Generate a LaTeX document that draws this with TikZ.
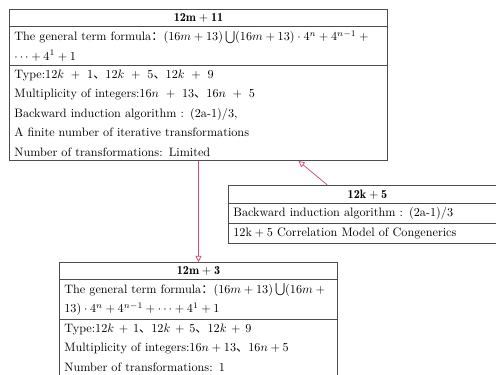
\documentclass[tikz,border=0pt]{standalone}
\usepackage{amsmath}
\usepackage{amssymb}
\usepackage{fontspec}
\usepackage{xcolor}
\usepackage{tikz}
\usetikzlibrary{arrows.meta,positioning,shapes.multipart,calc}
\newfontfamily\cjk{Noto Sans CJK SC}
\newcommand{\dun}{{\cjk 、}}
\newcommand{\maohao}{{\cjk ：}}
\definecolor{linkpink}{RGB}{214,72,128}

\begin{document}
\begin{tikzpicture}[
    x=0.82pt, y=-0.82pt,
    every node/.style={font=\fontsize{10}{16}\selectfont},
    classbox/.style={
      rectangle split, rectangle split parts=3, draw=black!70, line width=0.8pt,
      inner xsep=4pt, inner ysep=3pt, align=left, anchor=north west
    },
    inherit/.style={-{Triangle[open,length=5pt,width=5pt]}, line width=0.6pt, linkpink}
  ]
    \path[use as bounding box, clip] (0,0) rectangle (496,374);

    \node[classbox, text width=302pt] (m11) at (9,9) {%
      \centerline{$\mathbf{12m+11}$}
      \nodepart{two}The general term formula\maohao$(16m+13)\bigcup(16m+13)\cdot4^n+4^{n-1}+{}$\\
      $\cdots+4^1+1$
      \nodepart{three}Type:$12k\ +\ 1$\dun$12k\ +\ 5$\dun$12k\ +\ 9$\\
      Multiplicity of integers:$16n\ +\ 13$\dun$16n\ +\ 5$\\
      Backward induction algorithm : (2a-1)/3,\\
      A finite number of iterative transformations\\
      Number of transformations: Limited};

    \node[classbox, text width=220pt] (k5) at (228,185) {%
      \centerline{$\mathbf{12k+5}$}
      \nodepart{two}Backward induction algorithm : (2a-1)/3
      \nodepart{three}$\mathrm{12k+5}$ Correlation Model of Congenerics};

    \node[classbox, text width=220pt] (m3) at (59,262) {%
      \centerline{$\mathbf{12m+3}$}
      \nodepart{two}The general term formula\maohao$(16m+13)\bigcup(16m+{}$\\
      $13)\cdot4^n+4^{n-1}+\cdots+4^1+1$
      \nodepart{three}Type:$12k\,+\,1$\dun$12k\,+\,5$\dun$12k\,+\,9$\\
      Multiplicity of integers:$16n+13$\dun$16n+5$\\
      Number of transformations: 1};

    % Inheritance arrows
    \draw[inherit] (m11.south) -- (m3.north);
    \draw[inherit] ([xshift=-33pt]k5.north) -- ([xshift=82pt]m11.south);

  \end{tikzpicture}
\end{document}
